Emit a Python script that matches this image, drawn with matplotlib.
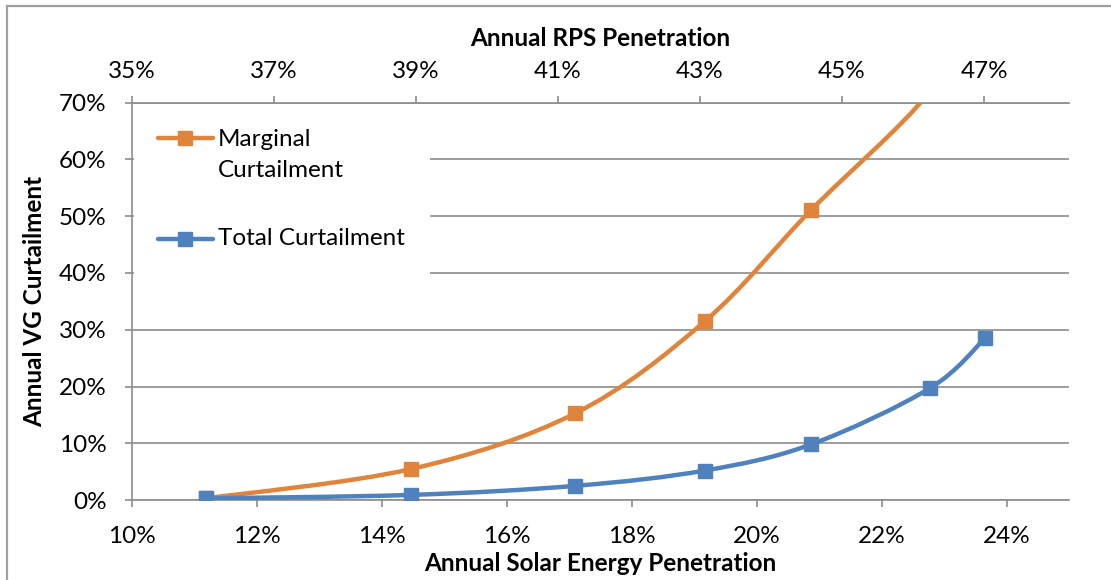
import matplotlib
matplotlib.use("Agg")
import matplotlib.pyplot as plt
from matplotlib.path import Path
from matplotlib.patches import PathPatch, Rectangle
from matplotlib.lines import Line2D
import numpy as np

# ---------------- data ----------------
solar_penetration = [11.19, 14.47, 17.10, 19.17, 20.87, 22.77, 23.65]
total_curtailment = [0.3, 0.9, 2.5, 5.2, 9.8, 19.7, 28.5]
marginal_penetration = [11.19, 14.47, 17.10, 19.17, 20.87, 22.77, 23.65]
marginal_curtailment = [0.3, 5.46, 15.3, 31.5, 51.1, 72.0, 90.0]
bottom_ticks = [10, 12, 14, 16, 18, 20, 22, 24]
top_ticks = [35, 37, 39, 41, 43, 45, 47]
y_ticks = [0, 10, 20, 30, 40, 50, 60, 70]
series_names = ["Marginal\nCurtailment", "Total Curtailment"]

ORANGE = "#E0843C"
BLUE = "#4F81BD"
GRID = "#8C8C8C"
FONT = "Lato"
TICK_FS = 17.5
TITLE_FS = 17.5

plt.rcParams['font.family'] = [FONT, 'DejaVu Sans']


def smooth_path(xs, ys):
    pts = np.column_stack([xs, ys]).astype(float)
    n = len(pts)
    verts = [pts[0]]
    codes = [Path.MOVETO]
    for i in range(n - 1):
        p0 = pts[i - 1] if i > 0 else pts[i]
        p1 = pts[i]
        p2 = pts[i + 1]
        p3 = pts[i + 2] if i + 2 < n else pts[i + 1]
        c1 = p1 + (p2 - p0) / 6.0
        c2 = p2 - (p3 - p1) / 6.0
        verts += [c1, c2, p2]
        codes += [Path.CURVE4] * 3
    return Path(verts, codes)


fig = plt.figure(figsize=(11.11, 5.80), dpi=100)
ax = fig.add_axes([0.1185, 0.1379, 0.9625 - 0.1185, 0.8229 - 0.1379])

ax.set_xlim(10, 25)
ax.set_ylim(0, 70)
ax.set_axisbelow(True)
ax.grid(axis='y', color=GRID, lw=1.2)
ax.set_yticks(y_ticks)
ax.set_yticklabels([f"{v}%" for v in y_ticks])
ax.set_xticks(bottom_ticks)
ax.set_xticklabels([f"{v}%" for v in bottom_ticks])
ax.tick_params(axis='both', labelsize=TICK_FS, color=GRID, width=1.2, length=5)
ax.tick_params(axis='x', pad=14)
ax.tick_params(axis='y', pad=13)
for s in ['top', 'right']:
    ax.spines[s].set_visible(False)
for s in ['left', 'bottom']:
    ax.spines[s].set_color(GRID)
    ax.spines[s].set_linewidth(1.2)

ax.set_xlabel("Annual Solar Energy Penetration", fontsize=TITLE_FS, fontweight='bold', labelpad=3)
ax.set_ylabel("Annual VG Curtailment", fontsize=TITLE_FS, fontweight='bold', labelpad=9)

# series
for xs, ys, col in [(marginal_penetration, marginal_curtailment, ORANGE),
                    (solar_penetration, total_curtailment, BLUE)]:
    ax.add_patch(PathPatch(smooth_path(xs, ys), fill=False, edgecolor=col, lw=3.2,
                           capstyle='round', joinstyle='round', zorder=3))
    ax.plot(xs, ys, 's', ms=10.5, color=col, zorder=4)
ax.set_xlim(10, 25)
ax.set_ylim(0, 70)

# top axis
ax2 = ax.twiny()
ax2.set_xlim(35, 48.2)
ax2.set_xticks(top_ticks)
ax2.set_xticklabels([f"{v}%" for v in top_ticks])
ax2.tick_params(axis='x', labelsize=TICK_FS, color=GRID, width=1.2, length=5, pad=10)
for s in ['left', 'right', 'bottom']:
    ax2.spines[s].set_visible(False)
ax2.spines['top'].set_color(GRID)
ax2.spines['top'].set_linewidth(1.2)
ax2.set_xlabel("Annual RPS Penetration", fontsize=TITLE_FS, fontweight='bold', labelpad=11)

# legend (manual, Excel-like layout)
ax.add_patch(Rectangle((0.002, 0.53), 0.316, 0.466, transform=ax.transAxes,
                       facecolor='white', edgecolor='none', zorder=1.5))
for yc, col, label, ty in [(0.911, ORANGE, series_names[0], 0.868),
                           (0.657, BLUE, series_names[1], 0.657)]:
    ax.add_line(Line2D([0.028, 0.0867], [yc, yc], transform=ax.transAxes, color=col,
                       lw=3.2, solid_capstyle='round', zorder=5))
    ax.add_line(Line2D([0.0574], [yc], transform=ax.transAxes, color=col, marker='s',
                       ms=10.5, lw=0, zorder=6))
    ax.text(0.092, ty, label, transform=ax.transAxes, fontsize=TICK_FS, va='center',
            ha='left', linespacing=1.62, zorder=6)

# outer chart border (top and left visible)
fig.add_artist(Line2D([7 / 1111, 1.0], [1 - 6 / 580, 1 - 6 / 580], transform=fig.transFigure,
                      color="#A0A0A0", lw=1.6))
fig.add_artist(Line2D([7 / 1111, 7 / 1111], [0.0, 1 - 6 / 580], transform=fig.transFigure,
                      color="#A0A0A0", lw=1.6))

fig.savefig("out.png", dpi=100)
